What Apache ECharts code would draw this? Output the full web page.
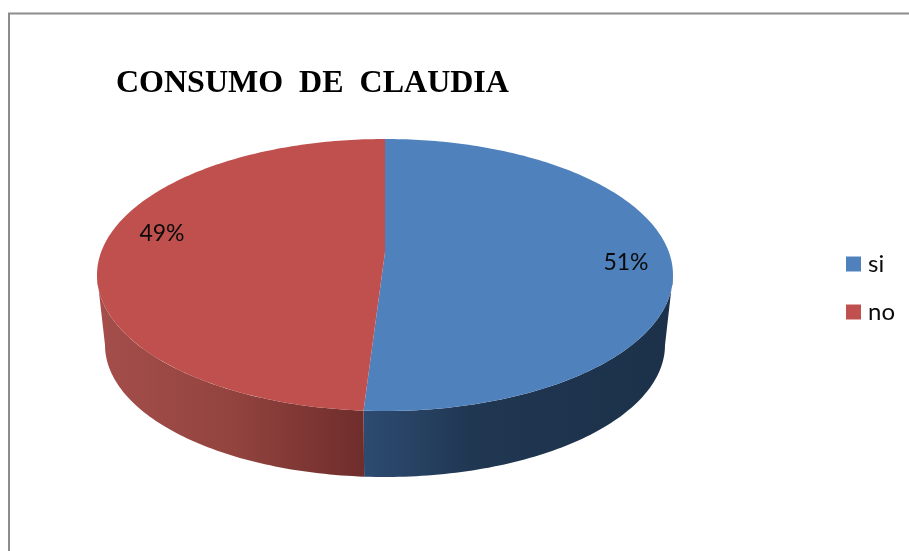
<!DOCTYPE html>
<html>
<head>
<meta charset="utf-8">
<style>html,body{margin:0;padding:0;background:#fff}#c{width:909px;height:551px}</style>
<script src="https://cdn.jsdelivr.net/npm/echarts@6/dist/echarts.min.js"></script>
</head>
<body>
<div id="c"></div>
<script>
const titleText = 'CONSUMO  DE  CLAUDIA';
const categories = ['si', 'no'];
const values = [51, 49];
const labels = ['51%', '49%'];
const colors = ['#4f81bd', '#c0504d'];

const total = values.reduce((a, b) => a + b, 0);
const TOP = {cx: 385, cy: 275, rx: 288, ry: 136};
const BOTTOM = {cx: 385, cy: 345, rx: 280, ry: 132};
const K = -0.169; // perspective shift of the pie centre
const LABEL_POS = [[626, 263], [162, 234]];
const WALLS = [
  {x0: 363, x1: 673, stops: [[0, '#2d4b71'], [0.35, '#203752'], [1, '#1c3149']]},
  {x0: 97, x1: 363, stops: [[0, '#a54e4b'], [0.5, '#93443f'], [1, '#6f2d2c']]}
];

function project(e, deg, r) {
  const t = deg * Math.PI / 180;
  const u = Math.sin(t) * r, v = -Math.cos(t) * r;
  const d = 1 + K * v;
  return [e.cx + e.rx * u * Math.sqrt(1 - K * K) / d, e.cy + e.ry * (v + K) / d];
}
function arc(e, a, b) {
  const pts = [];
  const n = Math.max(2, Math.ceil(Math.abs(b - a)));
  for (let i = 0; i <= n; i++) pts.push(project(e, a + (b - a) * i / n, 1));
  return pts;
}
// front-facing part of the rim, in degrees clockwise from the top
const frontFrom = Math.acos(K) * 180 / Math.PI;
const frontTo = 360 - frontFrom;

function renderSlice(index) {
  return function (params, api) {
    const before = values.slice(0, index).reduce((a, b) => a + b, 0);
    const start = before / total * 360;
    const end = start + api.value(0) / total * 360;
    const children = [];
    const a = Math.max(start, frontFrom), b = Math.min(end, frontTo);
    if (b > a) {
      const w = WALLS[index];
      children.push({
        type: 'polygon',
        shape: {points: arc(TOP, a, b).concat(arc(BOTTOM, b, a))},
        style: {fill: new echarts.graphic.LinearGradient(w.x0, 0, w.x1, 0,
          w.stops.map(s => ({offset: s[0], color: s[1]})), true)}
      });
    }
    children.push({
      type: 'polygon',
      shape: {points: [project(TOP, 0, 0)].concat(arc(TOP, start, end))},
      style: {fill: colors[index]}
    });
    children.push({
      type: 'text',
      z2: 10,
      style: {
        x: LABEL_POS[index][0], y: LABEL_POS[index][1],
        text: labels[index], fill: '#0a0a0a', align: 'center', verticalAlign: 'middle',
        font: '23px Lato'
      }
    });
    return {type: 'group', children};
  };
}

const chart = echarts.init(document.getElementById('c'), null, {renderer: 'canvas'});
chart.setOption({
  animation: false,
  backgroundColor: '#fff',
  color: colors,
  title: {
    text: titleText, left: 111, top: 63,
    textStyle: {fontFamily: 'Liberation Serif', fontWeight: 'bold', fontSize: 32, color: '#000'}
  },
  legend: {
    data: categories, orient: 'vertical', left: 841, top: 247, icon: 'rect',
    itemWidth: 15, itemHeight: 15, itemGap: 24,
    textStyle: {fontFamily: 'Lato', fontSize: 24, color: '#0a0a0a', padding: [0, 0, 0, 2]}
  },
  graphic: [{
    type: 'polyline',
    shape: {points: [[9, 551], [9, 13.5], [909, 13.5]]},
    style: {stroke: '#8c8c8c', lineWidth: 2, fill: null}
  }],
  series: categories.map((name, i) => ({
    type: 'custom', name, coordinateSystem: 'none',
    data: [values[i]], renderItem: renderSlice(i), silent: true
  }))
});
</script>
</body>
</html>
